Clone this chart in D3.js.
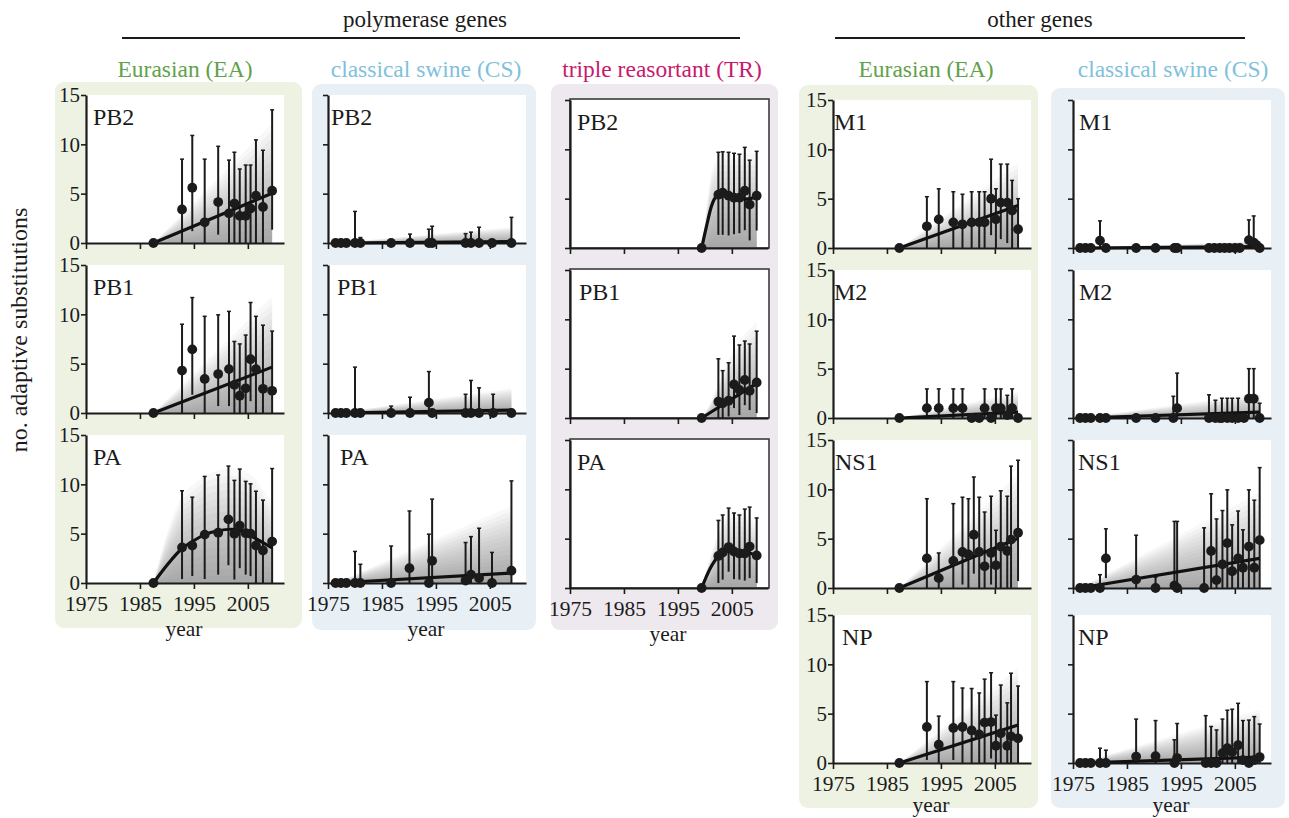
<!DOCTYPE html>
<html>
<head>
<meta charset="utf-8">
<script src="https://cdnjs.cloudflare.com/ajax/libs/d3/7.8.5/d3.min.js"></script>
<style>
  body { margin: 0; background: #fff; }
  svg { display: block; font-family: "Liberation Serif", "DejaVu Serif", "Times New Roman", serif; }
</style>
</head>
<body>
<div id="root"></div>
<script>
// ---------------------------------------------------------------------
// data: points are [year, mean, lower, upper], fits are [year, value],
// bands are [year, lower, upper]
// ---------------------------------------------------------------------
const polymeraseGenes = ['PB2', 'PB1', 'PA'];
const otherGenes = ['M1', 'M2', 'NS1', 'NP'];
const yearTicks = [1975, 1985, 1995, 2005];
const countTicks = [0, 5, 10, 15];

// polymerase / Eurasian
const eaPB2 = [[1987.5,0,0,0],[1992.8,3.4,0,8.5],[1994.7,5.6,1.2,10.9],[1997.0,2.1,0,8.5],[1999.5,4.15,0.85,9.8],[2001.5,3.0,0,8.4],[2002.5,4.0,0,9.2],[2003.5,2.75,0,7.5],[2004.6,2.75,0,7.9],[2005.5,3.5,0,7.9],[2006.5,4.8,0,10.45],[2007.8,3.65,0,9.4],[2009.5,5.3,1.35,13.5]];
const eaPB2Fit = [[1987.5,0],[2009.5,5.05]];
const eaPB2Band = [[1987.5,0,0],[2009.5,0,12.1]];

const eaPB1 = [[1987.5,0,0,0],[1992.8,4.3,0,9.0],[1994.7,6.45,1.85,11.7],[1997.0,3.45,0,9.8],[1999.5,3.95,0.7,9.95],[2001.5,4.45,0.7,10.3],[2002.5,2.85,0,7.25],[2003.5,1.75,0,7.0],[2004.6,2.5,0,7.9],[2005.5,5.45,1.2,11.2],[2006.5,4.45,0,9.8],[2007.8,2.45,0,8.9],[2009.5,2.25,0,8.3]];
const eaPB1Fit = [[1987.5,0],[2009.5,4.65]];
const eaPB1Band = [[1987.5,0,0],[2009.5,0,11.8]];

const eaPA = [[1987.5,0,0,0],[1992.8,3.6,0.4,9.35],[1994.7,3.8,0.7,8.7],[1997.0,4.9,0.4,10.8],[1999.5,5.1,0.85,10.95],[2001.4,6.45,1.8,11.85],[2002.5,5.0,0.35,10.4],[2003.5,5.8,1.5,11.55],[2004.6,5.05,0.85,10.3],[2005.5,5.0,0.7,10.05],[2006.5,3.8,0,9.3],[2007.8,3.3,0,8.4],[2009.5,4.2,0,11.6]];
const eaPAFit = [[1987.5,0],[1990,1.8],[1992.8,3.5],[1994.7,4.2],[1997,4.9],[1999.5,5.3],[2002,5.45],[2004.6,5.1],[2006.5,4.5],[2009.5,3.55]];
const eaPABand = [[1987.5,0,0],[1990,0,5],[1992.8,0,8.8],[1994.7,0,9.9],[1997,0,10.9],[1999.5,0,11.4],[2002,0,11.6],[2004.6,0,11.3],[2006.5,0,10.5],[2008,0,9.3],[2009.5,0,8.2]];

// polymerase / classical swine
const csPB2 = [[1976.4,0,0,0],[1977.4,0,0,0],[1978.4,0,0,0],[1980.0,0,0,3.2],[1981.0,0,0,0.55],[1986.7,0,0,0],[1990.2,0,0,0.9],[1993.7,0,0,1.4],[1994.3,0,0,1.7],[2000.5,0,0,0.95],[2001.5,0,0,1.1],[2003.0,0,0,1.6],[2005.4,0,0,0],[2009.0,0,0,2.6]];
const csPB2Fit = [[1976.4,0],[2009.0,0.15]];
const csPB2Band = [[1976.4,0,0],[2009.0,0,1.6]];

const csPB1 = [[1976.4,0,0,0],[1977.4,0,0,0],[1978.4,0,0,0],[1980.0,0,0,4.65],[1981.0,0,0,0],[1986.7,0,0,0.7],[1990.2,0,0,1.6],[1993.7,1.05,0,4.2],[1994.3,0,0,0],[2000.5,0,0,1.9],[2001.5,0,0,3.3],[2003.0,0,0,2.55],[2005.6,0,0,1.9],[2009.0,0,0,0]];
const csPB1Fit = [[1976.4,0],[2009.0,0.3]];
const csPB1Band = [[1976.4,0,0],[2009.0,0,2.5]];

const csPA = [[1976.4,0,0,0],[1977.4,0,0,0],[1978.4,0,0,0],[1980.0,0,0,3.2],[1981.0,0,0,1.9],[1986.7,0,0,3.75],[1990.1,1.5,0,7.3],[1993.7,0,0,4.95],[1994.3,2.25,0,8.5],[2000.5,0.25,0,4.1],[2001.5,0.85,0,4.7],[2003.0,0.5,0,5.55],[2005.4,0,0,3.1],[2009.0,1.25,0,10.35]];
const csPAFit = [[1976.4,0],[2009.0,1.0]];
const csPABand = [[1976.4,0,0],[2009.0,0,7.8]];

// polymerase / triple reassortant
const trPB2 = [[1999.4,0,0,0],[2002.5,5.4,1.33,9.7],[2003.3,5.6,1.33,9.75],[2004.4,5.3,1.27,9.7],[2005.4,5.1,1.4,9.6],[2006.4,5.1,1.5,9.5],[2007.4,5.8,1.8,10.2],[2008.3,4.4,0.77,8.9],[2009.6,5.3,1.77,9.8]];
const trPB2Fit = [[1999.4,0],[2000.3,2.2],[2001.2,4.2],[2002.2,5.25],[2003.3,5.45],[2004.5,5.25],[2006,5.05],[2007.5,4.95],[2008.5,5.0],[2009.6,5.3]];
const trPB2Band = [[1999.4,0,0],[2000.2,0,3.5],[2000.9,0,6.7],[2002.2,0,9.0],[2003.3,0,9.6],[2009.6,0,9.6]];

const trPB1 = [[1999.4,0,0,0],[2002.5,1.65,0,6.0],[2003.3,1.5,0,4.8],[2004.4,1.75,0.15,5.6],[2005.4,3.4,1.0,8.3],[2006.4,2.85,0.3,7.4],[2007.4,3.85,1.3,7.8],[2008.3,2.75,0.8,7.5],[2009.6,3.6,0.5,8.8]];
const trPB1Fit = [[1999.4,0],[2009.6,3.5]];
const trPB1Band = [[1999.4,0,0],[2001,0,1.5],[2002.5,0,3.5],[2004,0,5.5],[2006,0,7.5],[2009.6,0,9.7]];

const trPA = [[1999.4,0,0,0],[2002.5,3.25,0.5,6.85],[2003.3,3.6,0.85,7.4],[2004.4,4.15,1.65,8.1],[2005.4,3.7,0.9,7.6],[2006.4,3.5,0.85,7.4],[2007.4,3.5,0.75,8.0],[2008.3,4.2,1.0,8.2],[2009.6,3.3,0.5,7.1]];
const trPAFit = [[1999.4,0],[2001,2.0],[2002.5,3.2],[2004,3.7],[2006,3.75],[2008,3.6],[2009.6,3.3]];
const trPABand = [[1999.4,0,0],[2001,0,3.2],[2002.5,0,5.6],[2004,0,7.3],[2006,0,7.7],[2008,0,7.3],[2009.6,0,6.4]];

// other genes / Eurasian
const oeM1 = [[1987.3,0,0,0],[1992.4,2.2,0,5.2],[1994.6,2.9,0,6.0],[1997.3,2.6,0,5.7],[1999.0,2.4,0,5.45],[2000.7,2.6,0,5.7],[2002.1,2.6,0,5.7],[2003.1,2.6,0,5.7],[2004.3,5.0,1.3,9.0],[2005.2,2.9,0,6.0],[2006.1,4.6,0.9,8.5],[2007.3,4.6,0.5,8.5],[2008.2,3.8,0,6.85],[2009.3,1.9,0,5.0]];
const oeM1Fit = [[1987.3,0],[2009.3,4.3]];
const oeM1Band = [[1987.3,0,0],[2009.3,0,8.6]];

const oeM2 = [[1987.3,0,0,0],[1992.4,1.0,0,2.95],[1994.6,1.0,0,2.95],[1997.3,1.0,0,2.95],[1999.0,1.0,0,2.95],[2000.7,0,0,0],[2002.1,0,0,0],[2003.1,1.0,0,2.95],[2004.3,0,0,0],[2005.2,1.0,0,2.95],[2006.1,1.0,0,2.95],[2007.3,0.3,0,2.3],[2008.2,1.0,0,2.95],[2009.3,0,0,0]];
const oeM2Fit = [[1987.3,0],[2009.3,0.6]];
const oeM2Band = [[1987.3,0,0],[2009.3,0,2.6]];

const oeNS1 = [[1987.3,0,0,0],[1992.4,3.0,0,9.05],[1994.6,1.0,0,3.55],[1997.3,2.75,0,8.55],[1999.0,3.65,0.35,9.2],[2000.1,3.4,0,9.05],[2001.1,5.4,1.45,11.25],[2002.1,3.65,0,9.2],[2003.1,2.2,0,7.7],[2004.3,3.55,0.35,9.3],[2005.2,2.3,0,5.85],[2006.1,4.2,0,9.85],[2007.3,3.75,0,9.3],[2008.0,4.9,0,12.35],[2009.3,5.6,0.7,12.95]];
const oeNS1Fit = [[1987.3,0],[2009.3,5.05]];
const oeNS1Band = [[1987.3,0,0],[2009.3,0,11.6]];

const oeNP = [[1987.3,0,0,0],[1992.4,3.65,0.3,8.25],[1994.6,1.85,0,4.75],[1997.3,3.55,0.3,8.25],[1999.0,3.65,0,7.6],[2000.7,3.3,0,7.55],[2002.1,2.9,0,7.1],[2003.1,4.1,0,8.5],[2004.3,4.15,0.45,9.15],[2005.2,1.75,0,4.85],[2006.1,3.0,0,7.9],[2007.3,1.75,0,6.1],[2008.0,2.7,0,9.1],[2009.3,2.5,0,7.8]];
const oeNPFit = [[1987.3,0],[2009.3,3.85]];
const oeNPBand = [[1987.3,0,0],[2009.3,0,9.6]];

// other genes / classical swine
const ocM1 = [[1976.3,0,0,0],[1977.3,0,0,0],[1978.3,0,0,0],[1980.0,0.75,0,2.75],[1981.1,0,0,0],[1986.7,0,0,0],[1990.3,0,0,0],[1993.8,0,0,0],[1994.3,0,0,0],[2000.2,0,0,0],[2001.2,0,0,0],[2002.2,0,0,0],[2003.1,0,0,0],[2004.0,0,0,0],[2005.0,0,0,0],[2005.9,0,0,0],[2007.6,0.8,0,2.85],[2008.5,0.55,0,3.25],[2009.0,0.3,0,0.3],[2009.6,0,0,0]];
const ocM1Fit = [[1976.3,0],[2009.6,0.15]];
const ocM1Band = [[1976.3,0,0],[2009.6,0,0.7]];

const ocM2 = [[1976.3,0,0,0],[1977.3,0,0,0],[1978.3,0,0,0],[1980.0,0,0,0],[1981.1,0,0,0],[1986.7,0,0,0],[1990.3,0,0,0],[1993.6,0,0,2.2],[1994.3,1.0,0,4.55],[2000.2,0,0,2.35],[2001.4,0,0,1.8],[2002.2,0,0,0],[2002.6,0,0,2.0],[2003.6,0,0,2.0],[2004.5,0,0,2.0],[2005.6,0,0,2.0],[2006.7,0,0,0],[2007.6,1.95,0,5.0],[2008.5,1.95,0,5.0],[2009.6,0,0,1.5]];
const ocM2Fit = [[1976.3,0],[2009.6,0.6]];
const ocM2Band = [[1976.3,0,0],[2009.6,0,2.5]];

const ocNS1 = [[1976.3,0,0,0],[1977.3,0,0,0],[1978.3,0,0,0],[1980.0,0,0,1.35],[1981.1,3.0,1.0,6.0],[1986.7,0.85,0,5.35],[1990.3,0,0,1.1],[1993.8,0.25,0,6.75],[1994.3,0,0,6.75],[1999.3,0,0,6.1],[2000.6,3.75,0,9.55],[2001.6,0.8,0,7.0],[2002.7,2.4,0,7.85],[2003.6,4.55,0,9.95],[2004.5,1.7,0,6.4],[2005.6,3.0,0,7.8],[2006.5,2.05,0,5.9],[2007.6,4.2,0,9.95],[2008.6,2.05,0,8.9],[2009.6,4.85,0,12.2]];
const ocNS1Fit = [[1976.3,0],[2009.6,3.0]];
const ocNS1Band = [[1976.3,0,0],[2009.6,0,9.7]];

const ocNP = [[1976.3,0,0,0],[1977.3,0,0,0],[1978.3,0,0,0],[1980.0,0,0,1.5],[1981.1,0,0,1.3],[1986.7,0.65,0,4.45],[1990.3,0.7,0,4.3],[1993.8,0,0,2.35],[1994.3,0.5,0,4.0],[1999.6,0,0,4.8],[2000.6,0,0,3.7],[2001.6,0,0,3.35],[2002.7,1.0,0,4.45],[2003.6,1.5,0,5.35],[2004.5,1.1,0,5.45],[2005.6,1.8,0,6.05],[2006.5,0.3,0,4.3],[2007.6,0,0,4.35],[2008.6,0.3,0,4.7],[2009.6,0.6,0,3.95]];
const ocNPFit = [[1976.3,0],[2009.6,0.6]];
const ocNPBand = [[1976.3,0,0],[2009.6,0,5.4]];

//-----------------------------------------------------------------------

const W = 1289;
const H = 818;
const plotW = 198;
const plotH = 148;
const ink = '#1b1b1b';
const serif = '"Liberation Serif", "DejaVu Serif", "Times New Roman", serif';

const svg = d3.select('#root')
  .append('svg')
  .attr('width', W)
  .attr('height', H);

const columns = [
  { title: 'Eurasian (EA)', color: '#5fa24a', bg: '#edf2e3', box: [55, 82, 302, 628], titleX: 185,
    x0: 86, zeros: [243, 413, 583], genes: polymeraseGenes, labels: true, frame: false, labelDx: [7, 7, 7],
    panels: [[eaPB2, eaPB2Fit, eaPB2Band], [eaPB1, eaPB1Fit, eaPB1Band], [eaPA, eaPAFit, eaPABand]] },
  { title: 'classical swine (CS)', color: '#7fc1dc', bg: '#e9f0f5', box: [312, 84, 536, 630], titleX: 426,
    x0: 328, zeros: [243, 413, 583], genes: polymeraseGenes, labels: false, frame: false, labelDx: [3, 9, 12],
    panels: [[csPB2, csPB2Fit, csPB2Band], [csPB1, csPB1Fit, csPB1Band], [csPA, csPAFit, csPABand]] },
  { title: 'triple reasortant (TR)', color: '#c8196d', bg: '#eee8ef', box: [551, 84, 778, 630], titleX: 662,
    x0: 570, zeros: [248, 418, 588], genes: polymeraseGenes, labels: false, frame: true, labelDx: [7, 9, 7],
    panels: [[trPB2, trPB2Fit, trPB2Band], [trPB1, trPB1Fit, trPB1Band], [trPA, trPAFit, trPABand]] },
  { title: 'Eurasian (EA)', color: '#5fa24a', bg: '#edf2e3', box: [799, 85, 1038, 808], titleX: 926,
    x0: 833, zeros: [248, 418, 588, 763], genes: otherGenes, labels: true, frame: false, labelDx: [1, 1, 2, 9],
    panels: [[oeM1, oeM1Fit, oeM1Band], [oeM2, oeM2Fit, oeM2Band], [oeNS1, oeNS1Fit, oeNS1Band], [oeNP, oeNPFit, oeNPBand]] },
  { title: 'classical swine (CS)', color: '#7fc1dc', bg: '#e9f0f5', box: [1051, 88, 1285, 808], titleX: 1173,
    x0: 1073, zeros: [248, 418, 588, 763], genes: otherGenes, labels: false, frame: false, labelDx: [6, 6, 5, 5],
    panels: [[ocM1, ocM1Fit, ocM1Band], [ocM2, ocM2Fit, ocM2Band], [ocNS1, ocNS1Fit, ocNS1Band], [ocNP, ocNPFit, ocNPBand]] }
];

// group headers
const headers = [
  { text: 'polymerase genes', x: 425, x1: 122, x2: 740 },
  { text: 'other genes', x: 1040, x1: 835, x2: 1245 }
];
headers.forEach((h) => {
  svg.append('text')
    .attr('x', h.x)
    .attr('y', 27)
    .attr('text-anchor', 'middle')
    .style('font-size', '23px')
    .attr('fill', ink)
    .text(h.text);
  svg.append('line')
    .attr('x1', h.x1).attr('x2', h.x2)
    .attr('y1', 38).attr('y2', 38)
    .attr('stroke', ink)
    .attr('stroke-width', 2);
});

svg.append('text')
  .attr('transform', 'translate(27, 330) rotate(-90)')
  .attr('text-anchor', 'middle')
  .style('font-size', '24px')
  .attr('fill', ink)
  .text('no. adaptive substitutions');

const nLayers = 16;

columns.forEach((col) => {
  const [bx1, by1, bx2, by2] = col.box;
  svg.append('rect')
    .attr('x', bx1).attr('y', by1)
    .attr('width', bx2 - bx1).attr('height', by2 - by1)
    .attr('rx', 9).attr('ry', 9)
    .attr('fill', col.bg);

  svg.append('text')
    .attr('x', col.titleX)
    .attr('y', 77)
    .attr('text-anchor', 'middle')
    .style('font-size', '23.5px')
    .attr('fill', col.color)
    .text(col.title);

  const xScale = d3.scaleLinear()
    .domain([1975, 2011.7])
    .range([col.x0, col.x0 + plotW]);

  col.panels.forEach((panel, i) => {
    const [pts, fit, band] = panel;
    const zero = col.zeros[i];
    const isLast = i === col.panels.length - 1;
    const yScale = d3.scaleLinear()
      .domain([0, 15])
      .range([zero, zero - plotH]);

    const g = svg.append('g').attr('class', 'panel');

    g.append('rect')
      .attr('x', col.x0).attr('y', zero - plotH)
      .attr('width', plotW).attr('height', plotH)
      .attr('fill', '#fff');

    if (col.frame) {
      g.append('rect')
        .attr('x', col.x0).attr('y', zero - plotH - 1)
        .attr('width', plotW + 1).attr('height', plotH + 1)
        .attr('fill', 'none')
        .attr('stroke', '#333')
        .attr('stroke-width', 1.5);
    }

    // posterior fan, layered so it darkens towards the bottom
    for (let k = 1; k <= nLayers; k++) {
      const area = d3.area()
        .x((d) => xScale(d[0]))
        .y0((d) => yScale(d[1]))
        .y1((d) => yScale(d[1] + (d[2] - d[1]) * k / nLayers))
        .curve(d3.curveMonotoneX);
      g.append('path')
        .datum(band)
        .attr('d', area)
        .attr('fill', '#5a5a5a')
        .attr('fill-opacity', 0.045);
    }

    // axes
    const yAxis = d3.axisLeft(yScale)
      .tickValues(countTicks)
      .tickSize(5)
      .tickSizeOuter(0)
      .tickPadding(1)
      .tickFormat(col.labels ? d3.format('d') : '');
    const yG = g.append('g')
      .attr('transform', `translate(${col.x0}, 0)`)
      .call(yAxis);

    const xAxis = d3.axisBottom(xScale)
      .tickValues(yearTicks)
      .tickSize(6)
      .tickSizeOuter(0)
      .tickPadding(7)
      .tickFormat(isLast ? d3.format('d') : '');
    const xG = g.append('g')
      .attr('transform', `translate(0, ${zero})`)
      .call(xAxis);

    [yG, xG].forEach((ax) => {
      ax.select('.domain').attr('stroke', ink).attr('stroke-width', 2.2);
      ax.selectAll('.tick line').attr('stroke', ink).attr('stroke-width', 1.6);
      ax.selectAll('.tick text')
        .attr('fill', ink)
        .style('font-family', serif)
        .style('font-size', '21.5px');
    });
    yG.selectAll('.tick text').attr('dy', '0.32em').style('font-size', '21px');

    // error bars
    const bars = pts.filter((d) => d[3] > d[2]);
    g.selectAll('.err')
      .data(bars)
      .enter()
      .append('line')
      .attr('class', 'err')
      .attr('x1', (d) => xScale(d[0]))
      .attr('x2', (d) => xScale(d[0]))
      .attr('y1', (d) => yScale(d[2]))
      .attr('y2', (d) => yScale(d[3]))
      .attr('stroke', ink)
      .attr('stroke-width', 2);
    g.selectAll('.cap')
      .data(bars)
      .enter()
      .append('line')
      .attr('class', 'cap')
      .attr('x1', (d) => xScale(d[0]) - 2)
      .attr('x2', (d) => xScale(d[0]) + 2)
      .attr('y1', (d) => yScale(d[3]))
      .attr('y2', (d) => yScale(d[3]))
      .attr('stroke', ink)
      .attr('stroke-width', 1.5);

    // mean trend
    const line = d3.line()
      .x((d) => xScale(d[0]))
      .y((d) => yScale(d[1]))
      .curve(d3.curveMonotoneX);
    g.append('path')
      .datum(fit)
      .attr('d', line)
      .attr('fill', 'none')
      .attr('stroke', '#111')
      .attr('stroke-width', 3.2);

    g.selectAll('.dot')
      .data(pts)
      .enter()
      .append('circle')
      .attr('class', 'dot')
      .attr('cx', (d) => xScale(d[0]))
      .attr('cy', (d) => yScale(d[1]))
      .attr('r', 4.9)
      .attr('fill', ink);

    g.append('text')
      .attr('x', col.x0 + col.labelDx[i])
      .attr('y', zero - 118)
      .style('font-size', '24px')
      .attr('fill', ink)
      .text(col.genes[i]);

    if (isLast) {
      g.append('text')
        .attr('x', col.x0 + 98)
        .attr('y', Math.min(zero + 53, H - 6))
        .attr('text-anchor', 'middle')
        .style('font-size', '21.5px')
        .attr('fill', ink)
        .text('year');
    }
  });
});
</script>
</body>
</html>
